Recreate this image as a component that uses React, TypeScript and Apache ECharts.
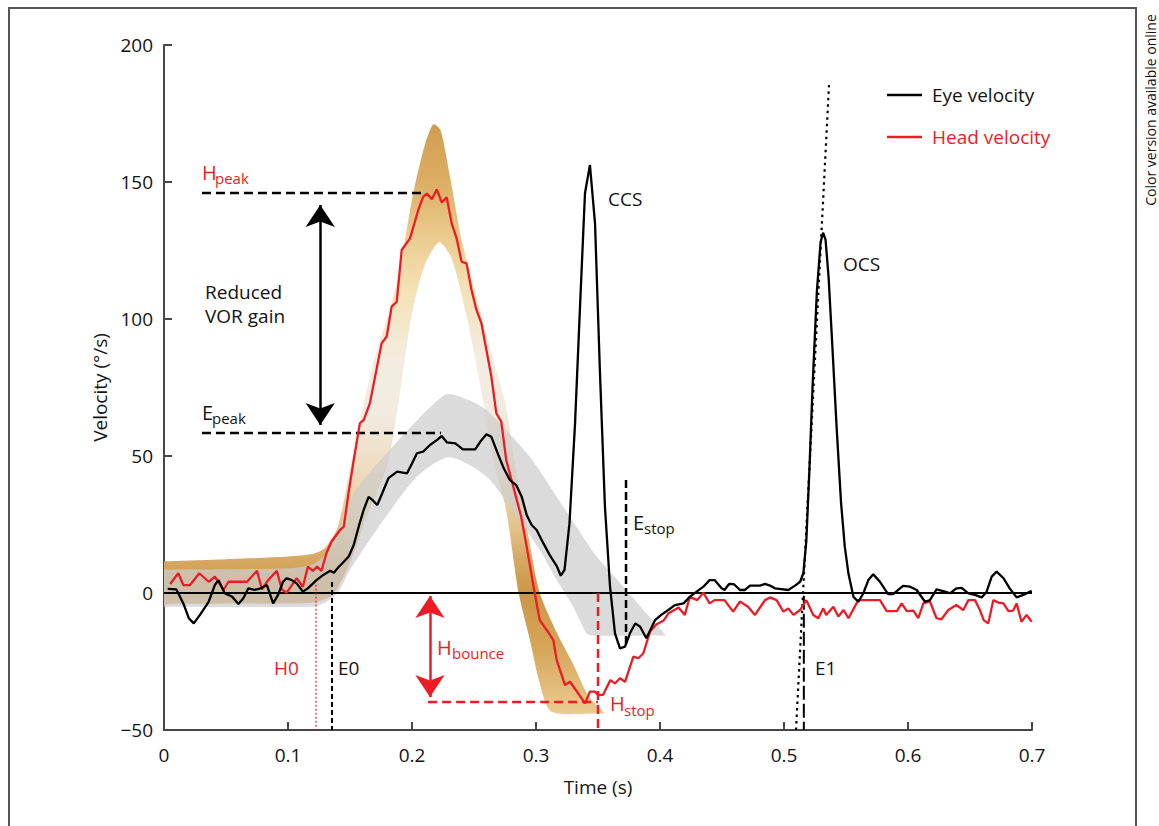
import React, { useEffect, useRef } from 'react';
import * as echarts from 'echarts';

const FONT = '"Open Sans", "Noto Sans", sans-serif';
const RED = '#ed1c24';
const INK = '#141414';

// axis ticks
const xTicks = [0, 0.1, 0.2, 0.3, 0.4, 0.5, 0.6, 0.7];
const yTicks = [-50, 0, 50, 100, 150, 200];

// eye velocity [time s, deg/s]
const eyeVelocity: number[][] = [
  [0.003, 1.5], [0.01, 1.3], [0.0156, -3.8], [0.02, -9.2], [0.024, -11.1], [0.029, -8], [0.036, -3.2], [0.041, 2.9],
  [0.044, 4.7], [0.049, -0.1], [0.055, -1.4], [0.06, -4], [0.064, -1.9], [0.068, 1.7], [0.073, 1.1], [0.078, 1.7],
  [0.083, 2.9], [0.088, -3.8], [0.092, -0.7], [0.096, 4.1], [0.099, 5.4], [0.103, 4.7], [0.107, 3.5], [0.112, 0.5],
  [0.116, 1.7], [0.123, 4.7], [0.1285, 6.6], [0.134, 8.1], [0.137, 7.4], [0.141, 9.6], [0.145, 11.4], [0.149, 13.3],
  [0.153, 17.5], [0.157, 24.2], [0.161, 30.3], [0.165, 35.1], [0.168, 34], [0.172, 32.1], [0.176, 36.4], [0.181, 41.9],
  [0.188, 44.3], [0.196, 43.7], [0.2, 47.3], [0.204, 51], [0.209, 51.6], [0.2145, 54], [0.22, 55.8], [0.224, 57.3],
  [0.228, 55], [0.235, 54.6], [0.241, 52.4], [0.251, 52.4], [0.255, 55.2], [0.26, 57.9], [0.264, 57], [0.2696, 50.4],
  [0.274, 45.5], [0.279, 41.2], [0.284, 39.4], [0.2885, 35.1], [0.2925, 28.5], [0.2965, 24.8], [0.3005, 23], [0.306, 18.1],
  [0.311, 13.9], [0.317, 9.6], [0.32, 6.3], [0.323, 8.4], [0.327, 25.4], [0.3315, 62], [0.3355, 104.5], [0.3395, 145.9],
  [0.3435, 156.2], [0.3476, 134.9], [0.3516, 80.2], [0.3556, 31.5], [0.3597, 2.3], [0.3637, -14.7], [0.3677, -20.2],
  [0.3718, -19.6], [0.3758, -14.7], [0.38, -11.1], [0.384, -12.3], [0.389, -16.5], [0.396, -9.9], [0.401, -8],
  [0.4067, -6.2], [0.412, -4.4], [0.419, -3.8], [0.424, -1.4], [0.4296, 0.5], [0.435, 2.3], [0.44, 4.7], [0.444, 4.7],
  [0.4497, 1.7], [0.452, 1.1], [0.4557, 3.3], [0.4597, 3.2], [0.4645, 1.1], [0.4685, 1.1], [0.4726, 2.7], [0.4806, 2.7],
  [0.4847, 3.3], [0.4887, 2.7], [0.4927, 1.7], [0.5035, 1.1], [0.5089, 2.7], [0.513, 4.1], [0.5156, 7.2], [0.518, 19],
  [0.5205, 45], [0.523, 75], [0.5265, 110], [0.5295, 128], [0.5315, 131.5], [0.5335, 129], [0.536, 115], [0.539, 90],
  [0.5425, 60], [0.546, 33], [0.549, 17], [0.552, 7], [0.556, -1.4], [0.56, -3.2], [0.564, -0.1], [0.568, 4.7],
  [0.572, 6.8], [0.5774, 4.1], [0.584, -0.4], [0.588, -0.4], [0.596, 2.6], [0.6016, 2.3], [0.607, 1.1], [0.6137, -3.2],
  [0.6177, -2.6], [0.623, 1.3], [0.6298, 0.5], [0.634, -0.1], [0.639, 1.7], [0.6433, 1.9], [0.6487, -0.1], [0.654, -0.7],
  [0.6594, -1.6], [0.6634, 0.5], [0.6675, 6], [0.6715, 7.8], [0.677, 5.4], [0.682, 1.7], [0.6876, -1.6], [0.693, -0.7],
  [0.6997, 0.8],
];

// head velocity [time s, deg/s]
const headVelocity: number[][] = [
  [0.005, 3.3], [0.0115, 7.2], [0.0156, 2.9], [0.021, 2.9], [0.0285, 7.2], [0.036, 4.1], [0.041, 6], [0.048, 1.1],
  [0.052, 4.1], [0.067, 4.1], [0.075, 8.1], [0.079, 1.3], [0.084, 4.7], [0.091, 8.1], [0.095, 1.3], [0.099, 0.1],
  [0.107, 5.4], [0.112, 2.3], [0.116, 9.6], [0.12, 8.1], [0.1235, 9.6], [0.127, 8.1], [0.131, 14.5], [0.135, 18.7],
  [0.142, 23], [0.145, 24.2], [0.149, 37], [0.153, 48.5], [0.158, 62], [0.161, 63.1], [0.166, 69.2], [0.1755, 91.1],
  [0.1796, 93.6], [0.1836, 104.5], [0.1877, 106.3], [0.1917, 125.2], [0.1984, 129.4], [0.2051, 139.8], [0.209, 144.6],
  [0.212, 145.8], [0.216, 143.7], [0.22, 147.3], [0.224, 142.5], [0.228, 144.4], [0.232, 134.9], [0.236, 129.4],
  [0.24, 120.9], [0.244, 120.3], [0.248, 110.6], [0.252, 103.3], [0.256, 98.4], [0.26, 88.7], [0.264, 79], [0.268, 65.6],
  [0.272, 62.5], [0.276, 48.5], [0.2817, 38.8], [0.288, 27.9], [0.292, 18.1], [0.299, -0.1], [0.303, -9.9], [0.3086, -13.5],
  [0.314, -17.2], [0.3167, -24.5], [0.3234, -33.6], [0.3274, -32.4], [0.334, -36.6], [0.3395, -40.3], [0.3435, -36],
  [0.3476, -36], [0.35, -37.2], [0.354, -37.2], [0.36, -31.8], [0.3637, -33], [0.3677, -31.1], [0.3718, -32.4],
  [0.3785, -23.2], [0.3825, -23.8], [0.3866, -22], [0.392, -14], [0.397, -11.5], [0.403, -10], [0.4067, -7.5],
  [0.415, -5.3], [0.42, -8], [0.424, -1.4], [0.43, -2.6], [0.435, 0.1], [0.44, -3.8], [0.444, -2.6], [0.452, -2.6],
  [0.459, -6.8], [0.4645, -3.1], [0.471, -5], [0.4766, -8], [0.4847, -2.6], [0.4887, -1.6], [0.494, -2.6], [0.4995, -6.8],
  [0.5035, -5.6], [0.5076, -8], [0.513, -6.2], [0.518, -2.6], [0.5236, -8], [0.5277, -9.2], [0.5317, -5.6], [0.534, -8],
  [0.5398, -5], [0.5438, -8.6], [0.548, -6.2], [0.552, -9.2], [0.5599, -2.6], [0.568, -2.6], [0.5774, -2.6], [0.5828, -6.6],
  [0.591, -6.6], [0.5949, -3.8], [0.599, -6.6], [0.6043, -6.4], [0.6083, -9.2], [0.6124, -3.8], [0.6177, -3.1],
  [0.623, -9.2], [0.627, -9.6], [0.6325, -6.2], [0.639, -4.4], [0.6446, -6.2], [0.6487, -2.6], [0.654, -2.6], [0.658, -6.2],
  [0.661, -9.9], [0.6647, -11.1], [0.6688, -2.6], [0.673, -3.5], [0.677, -3.8], [0.681, -6.6], [0.6848, -6.4],
  [0.6876, -3.8], [0.6915, -10.5], [0.6957, -8], [0.6997, -10.5],
];

// head-velocity template band (outer and inner edges)
const headBandOuter: number[][] = [
  [0, 11.5], [0.004, 11.6], [0.05, 12.3], [0.1, 13.3], [0.12, 14.3], [0.13, 16.5], [0.14, 24], [0.15, 45], [0.16, 67],
  [0.17, 86], [0.182, 103], [0.19, 118], [0.201, 146], [0.21, 163], [0.217, 171], [0.223, 169], [0.2306, 152],
  [0.24, 129], [0.255, 103], [0.265, 86], [0.276, 68], [0.282, 50], [0.2885, 34], [0.295, 18], [0.303, 0],
  [0.317, -14.7], [0.33, -26], [0.341, -36.6], [0.35, -41.5], [0.3556, -43.9],
];
const headBandInner: number[][] = [
  [0, -4], [0.004, -4], [0.1, -3.8], [0.12, -3.5], [0.135, -1], [0.145, 6], [0.155, 17], [0.165, 30], [0.175, 40],
  [0.182, 50], [0.19, 72], [0.198, 97], [0.205, 112], [0.212, 121.5], [0.222, 128], [0.232, 122], [0.244, 101],
  [0.2575, 70], [0.2656, 48.5], [0.276, 30], [0.286, 0], [0.295, -17], [0.303, -33], [0.3126, -43.3], [0.3556, -43.9],
];

// eye-velocity template band (upper and lower edges)
const eyeBandUpper: number[][] = [
  [0, 8.5], [0.004, 8.5], [0.1, 9], [0.12, 10.5], [0.13, 14], [0.14, 22], [0.155, 37.6], [0.177, 49.7], [0.204, 63],
  [0.228, 72.5], [0.245, 70.5], [0.26, 66.8], [0.295, 49.7], [0.322, 31.5], [0.349, 13.3], [0.3705, 2.3],
  [0.389, -7.4], [0.405, -15.5],
];
const eyeBandLower: number[][] = [
  [0, -5], [0.004, -5], [0.12, -5], [0.13, -3.5], [0.14, 0], [0.15, 8.4], [0.177, 26.6], [0.204, 42.4], [0.23, 49.5],
  [0.26, 42.5], [0.2844, 27.8], [0.303, 15.7], [0.3167, 4.7], [0.33, -5], [0.3407, -14.7], [0.345, -15.5], [0.405, -15.5],
];

// annotation markers (data coordinates)
const hPeakLine = [[0.0306, 146], [0.2105, 146]];
const ePeakLine = [[0.0306, 58.4], [0.2234, 58.4]];
const vorArrow = [[0.126, 141.6], [0.126, 61.3]];
const bounceArrow = [[0.2145, -1.1], [0.2145, -38]];
const hStopHoriz = [[0.213, -39.8], [0.35, -39.8]];
const hStopVert = [[0.35, 0], [0.35, -50]];
const eStopVert = [[0.3726, 41.2], [0.3726, -19]];
const h0Line = [[0.1226, 3], [0.1226, -50]];
const e0Line = [[0.1355, 4], [0.1355, -50]];
const e1Line = [[0.516, -1], [0.516, -50]];
const ocsTangent = [[0.5097, -50], [0.5363, 185.4]];
const zeroLine = [[0, 0], [0.7, 0]];

function lineSeries(name: string, data: number[][], color: string, width: number, type: any, z: number) {
  return {
    type: 'line', name, data, symbol: 'none', showSymbol: false, silent: true, z,
    lineStyle: { color, width, type, cap: 'butt' },
  };
}

function arrowSeries(name: string, seg: number[][], color: string) {
  return {
    type: 'line', name, data: [], symbol: 'none', silent: true, z: 8,
    markLine: {
      silent: true, animation: false,
      symbol: ['arrow', 'arrow'], symbolSize: [22, 22],
      label: { show: false },
      lineStyle: { color, width: 2.5, type: 'solid' },
      emphasis: { disabled: true },
      data: [[{ coord: seg[0] }, { coord: seg[1] }]],
    },
  };
}

function bandSeries(name: string, upper: number[][], lower: number[][], fill: (api: any) => any, z: number) {
  return {
    type: 'custom', name, coordinateSystem: 'cartesian2d', silent: true, clip: true, z,
    data: [upper[0]],
    renderItem: (params: any, api: any) => {
      const pts = upper.map((p) => api.coord(p)).concat(lower.slice().reverse().map((p) => api.coord(p)));
      return {
        type: 'polygon',
        shape: { points: pts, smooth: 0.25 },
        style: { fill: fill(api), stroke: 'none' },
      };
    },
  };
}

const headFill = (api: any) => {
  const y0 = api.coord([0, 171])[1];
  const y1 = api.coord([0, -44])[1];
  const off = (v: number) => (171 - v) / 215;
  return new echarts.graphic.LinearGradient(0, y0, 0, y1, [
    { offset: 0, color: '#cf9d50' },
    { offset: off(150), color: '#dcae64' },
    { offset: off(130), color: '#ebcb8e' },
    { offset: off(110), color: '#f4e2b8' },
    { offset: off(85), color: '#f3ece0' },
    { offset: off(65), color: '#f2ebe0' },
    { offset: off(45), color: '#efdcc0' },
    { offset: off(25), color: '#e4c48e' },
    { offset: off(12), color: '#d5a862' },
    { offset: off(0), color: '#cc9645' },
    { offset: off(-20), color: '#d6a55a' },
    { offset: 1, color: '#ebcb90' },
  ], true);
};
const eyeFill = () => 'rgba(205,205,205,0.72)';

function txt(x: number, y: number, text: string, color = INK, size = 19, align = 'left') {
  return {
    type: 'text', x, y, z: 20, silent: true,
    style: { text, fill: color, fontSize: size, fontFamily: FONT, align, verticalAlign: 'middle' },
  };
}

export default function App() {
  const ref = useRef<HTMLDivElement>(null);
  useEffect(() => {
    if (!ref.current) return;
    const chart = echarts.init(ref.current, undefined, { renderer: 'svg' });
    const axisLine = { show: true, onZero: false, lineStyle: { color: '#474747', width: 2 } };
    const option: any = {
      animation: false,
      backgroundColor: '#ffffff',
      textStyle: { fontFamily: FONT },
      grid: { left: 164, right: 127, top: 45, bottom: 96, containLabel: false, outerBoundsMode: 'none' },
      legend: {
        orient: 'vertical', left: 887, top: 85, padding: 0, itemWidth: 35, itemHeight: 2.6, itemGap: 22,
        icon: 'rect', selectedMode: false,
        textStyle: { fontSize: 19, fontFamily: FONT, lineHeight: 20, padding: [0, 0, 0, 5] },
        data: [
          { name: 'Eye velocity', textStyle: { color: INK } },
          { name: 'Head velocity', textStyle: { color: RED } },
        ],
      },
      xAxis: {
        type: 'value', min: 0, max: 0.7, interval: 0.1,
        name: 'Time (s)', nameLocation: 'middle', nameGap: 47,
        nameTextStyle: { fontSize: 19, color: INK, fontFamily: FONT },
        axisLine, splitLine: { show: false },
        axisTick: { show: true, inside: true, length: 8, lineStyle: { color: '#474747', width: 2 } },
        axisLabel: {
          fontSize: 19, color: INK, margin: 15, fontFamily: FONT,
          customValues: xTicks,
          formatter: (v: number) => String(Math.round(v * 10) / 10),
        },
      },
      yAxis: {
        type: 'value', min: -50, max: 200, interval: 50,
        name: 'Velocity (°/s)', nameLocation: 'middle', nameGap: 53, nameRotate: 90,
        nameTextStyle: { fontSize: 19, color: INK, fontFamily: FONT },
        axisLine, splitLine: { show: false },
        axisTick: { show: true, inside: true, length: 8, lineStyle: { color: '#474747', width: 2 } },
        axisLabel: {
          fontSize: 19, color: INK, margin: 11, fontFamily: FONT,
          customValues: yTicks,
          formatter: (v: number) => (v < 0 ? '\u2212' + Math.abs(v) : String(v)),
        },
      },
      series: [
        bandSeries('Head band', headBandOuter, headBandInner, headFill, 1),
        bandSeries('Eye band', eyeBandUpper, eyeBandLower, eyeFill, 2),
        lineSeries('zero', zeroLine, '#000', 2, 'solid', 3),
        lineSeries('Hpeak', hPeakLine, '#000', 2.5, [9, 5], 4),
        lineSeries('Epeak', ePeakLine, '#000', 2.5, [9, 5], 4),
        lineSeries('Hstop h', hStopHoriz, RED, 2.5, [9, 5], 4),
        lineSeries('Hstop v', hStopVert, RED, 2.5, [9, 5], 4),
        lineSeries('Estop', eStopVert, '#000', 2.5, [8, 4], 4),
        lineSeries('H0', h0Line, RED, 1.2, [2, 2], 4),
        lineSeries('E0', e0Line, '#000', 2, [5, 3], 4),
        lineSeries('E1', e1Line, '#000', 2, [14, 4], 4),
        lineSeries('OCS tangent', ocsTangent, '#000', 2.2, [2.5, 4], 4),
        {
          type: 'line', name: 'Head velocity', data: headVelocity, symbol: 'none', showSymbol: false, z: 6,
          lineStyle: { color: RED, width: 2.3 }, itemStyle: { color: RED },
        },
        {
          type: 'line', name: 'Eye velocity', data: eyeVelocity, symbol: 'none', showSymbol: false, z: 7,
          lineStyle: { color: '#000', width: 2.3 }, itemStyle: { color: '#000' },
        },
        arrowSeries('VOR arrow', vorArrow, '#000'),
        arrowSeries('Bounce arrow', bounceArrow, RED),
      ],
      graphic: [
        { type: 'polyline', silent: true, z: 20, shape: { points: [[9, 830], [9, 8], [1136, 8], [1136, 830]] }, style: { stroke: '#555', lineWidth: 2, fill: 'none' } },
        { type: 'text', x: 1150, y: 110, rotation: Math.PI / 2, silent: true, z: 20,
          style: { text: 'Color version available online', fill: INK, fontSize: 14, fontFamily: FONT, align: 'center', verticalAlign: 'middle' } },
        txt(202, 172, 'H', RED, 20), txt(215, 178, 'peak', RED, 15),
        txt(202, 412, 'E', INK, 20), txt(212, 418, 'peak', INK, 15),
        txt(205, 292, 'Reduced', INK, 19), txt(205, 316, 'VOR gain', INK, 19),
        txt(608, 199, 'CCS', INK, 19), txt(843, 264, 'OCS', INK, 19),
        txt(633, 522, 'E', INK, 20), txt(644, 528, 'stop', INK, 15),
        txt(437, 647, 'H', RED, 20), txt(452, 653, 'bounce', RED, 15),
        txt(610, 703, 'H', RED, 20), txt(624, 710, 'stop', RED, 15),
        txt(274, 668, 'H0', RED, 19), txt(338, 668, 'E0', INK, 19), txt(815, 668, 'E1', INK, 19),
      ],
    };
    chart.setOption(option);
    return () => chart.dispose();
  }, []);
  return <div ref={ref} style={{ position: 'absolute', left: 0, top: 0, width: 1159, height: 826 }} />;
}
